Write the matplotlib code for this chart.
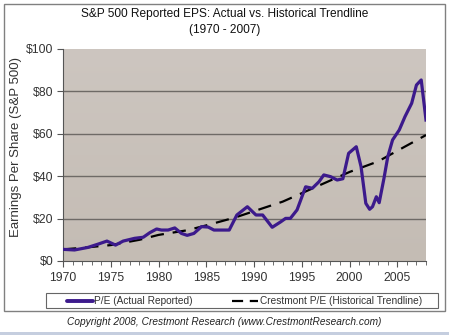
import matplotlib
matplotlib.use("Agg")
import matplotlib.pyplot as plt
from matplotlib.patches import Rectangle
from matplotlib.lines import Line2D
import numpy as np

plt.rcParams['font.family'] = ['Liberation Sans', 'DejaVu Sans']

# Actual reported EPS
eps_years = [1970.0, 1971.2, 1972.6, 1973.7, 1974.6, 1975.5, 1976.3, 1977.5, 1978.4,
             1979.1, 1979.8, 1980.3, 1981.0, 1981.7, 1982.4, 1983.0, 1983.7, 1984.5,
             1985.2, 1985.8, 1986.6, 1987.4, 1988.2, 1989.3, 1990.2, 1990.9, 1991.9,
             1992.8, 1993.3, 1993.8, 1994.5, 1995.4, 1996.1, 1996.8, 1997.3, 1998.0,
             1998.7, 1999.3, 1999.9, 2000.7, 2001.2, 2001.7, 2002.1, 2002.4, 2002.8,
             2003.1, 2003.6, 2004.0, 2004.5, 2005.2, 2005.8, 2006.5, 2007.0, 2007.5, 2008.0]
eps_values = [5.5, 5.2, 6.4, 8.0, 9.4, 7.5, 9.4, 10.7, 11.2,
              13.4, 15.1, 14.6, 14.6, 15.6, 13.0, 12.1, 13.0, 16.2,
              16.0, 14.6, 14.6, 14.6, 21.7, 25.6, 21.7, 21.7, 15.9,
              18.5, 20.1, 20.1, 24.1, 35.0, 34.3, 37.4, 40.6, 39.8,
              38.2, 38.8, 50.8, 53.9, 44.5, 27.2, 24.4, 25.6, 30.3,
              27.5, 39.0, 49.2, 57.1, 61.8, 68.1, 74.4, 83.0, 85.4, 66.5]

# Crestmont historical trendline
trend_years = [1970, 1972, 1975, 1978, 1980, 1983, 1985, 1988, 1990, 1993, 1995, 1998, 2000, 2003, 2005, 2008]
trend_values = [5.5, 6.2, 7.5, 10.0, 12.3, 14.5, 16.8, 20.5, 23.5, 28.0, 32.0, 38.0, 42.0, 47.0, 52.0, 59.4]

y_ticks = [0, 20, 40, 60, 80, 100]
y_labels = ['$0', '$20', '$40', '$60', '$80', '$100']
x_ticks = [1970, 1975, 1980, 1985, 1990, 1995, 2000, 2005]

title = "S&P 500 Reported EPS: Actual vs. Historical Trendline\n(1970 - 2007)"
ylabel = "Earnings Per Share (S&P 500)"
legend_labels = ["P/E (Actual Reported)", "Crestmont P/E (Historical Trendline)"]
copyright_text = "Copyright 2008, Crestmont Research (www.CrestmontResearch.com)"

W, H = 449, 335
fig = plt.figure(figsize=(W/100, H/100), dpi=100)
fig.patch.set_facecolor('white')

# outer frame
fig.add_artist(Rectangle((4/W, 1 - 311/H), (445-4)/W, (311-4)/H, transform=fig.transFigure,
                         facecolor='white', edgecolor='#808080', lw=1.0, zorder=0))
# bottom strip
fig.add_artist(Rectangle((0, 0), 1, 3/H, transform=fig.transFigure,
                         facecolor='#C5CEDF', edgecolor='none', zorder=0))

left, right, top, bottom = 63, 426, 49, 261
ax = fig.add_axes([left/W, 1 - bottom/H, (right-left)/W, (bottom-top)/H])
ax.set_xlim(1970, 2008)
ax.set_ylim(0, 100)

# gradient background
grad = np.linspace(0, 1, 256)
c_top = np.array([205, 198, 192]) / 255
c_bot = np.array([196, 188, 180]) / 255
img = (c_bot[None, None, :] + (c_top - c_bot)[None, None, :] * grad[:, None, None])
img = np.repeat(img, 2, axis=1)
ax.imshow(img, extent=[1970, 2008, 0, 100], origin='lower', aspect='auto', zorder=0)

for v in y_ticks[1:-1]:
    ax.axhline(v, color='#6E6A66', lw=1.0, zorder=1)

ax.plot(trend_years, trend_values, color='black', lw=1.6, dashes=(6, 4), zorder=3)
ax.plot(eps_years, eps_values, color='#3C1A8C', lw=2.3, zorder=4, solid_joinstyle='round')

for s in ['top', 'right']:
    ax.spines[s].set_visible(False)
ax.spines['left'].set_color('#555555')
ax.spines['bottom'].set_color('#555555')

ax.set_yticks(y_ticks)
ax.set_yticklabels(y_labels)
ax.set_xticks(x_ticks)
ax.set_xticks(list(range(1970, 2009)), minor=True)
ax.tick_params(axis='both', which='major', direction='out', length=4, color='#555555',
               labelsize=8.8, labelcolor='#333333', pad=3)
ax.tick_params(axis='x', which='minor', direction='out', length=3, color='#555555')
ax.tick_params(axis='x', which='major', pad=4)

ax.set_ylabel(ylabel, fontsize=9.5, color='#333333')
# anchor (right edge of rotated text) so the label centre sits near x=16, y=147
ax.yaxis.set_label_coords((22 - left) / (right - left), (bottom - 147) / (bottom - top))

fig.text(0.5, 1 - 22/H, title, ha='center', va='center', fontsize=8.6,
         color='#111111', linespacing=1.35)

# legend box
lx0, lx1, ly0, ly1 = 46, 438, 293, 308
fig.add_artist(Rectangle((lx0/W, 1 - ly1/H), (lx1-lx0)/W, (ly1-ly0)/H, transform=fig.transFigure,
                         facecolor='white', edgecolor='#666666', lw=0.8, zorder=2))
ym = 1 - 300.5/H
fig.add_artist(Line2D([67/W, 93/W], [ym, ym], transform=fig.transFigure,
                      color='#3C1A8C', lw=2.8, solid_capstyle='round', zorder=3))
fig.text(94/W, ym, legend_labels[0], ha='left', va='center', fontsize=7.3, color='#333333')
fig.add_artist(Line2D([232/W, 258/W], [ym, ym], transform=fig.transFigure,
                      color='black', lw=1.6, dashes=(5, 3), zorder=3))
fig.text(260/W, ym, legend_labels[1], ha='left', va='center', fontsize=7.3, color='#333333')

fig.text(0.5, 1 - 322/H, copyright_text, ha='center', va='center', fontsize=7.3,
         style='italic', color='#222222')

fig.savefig('out.png', dpi=100)
